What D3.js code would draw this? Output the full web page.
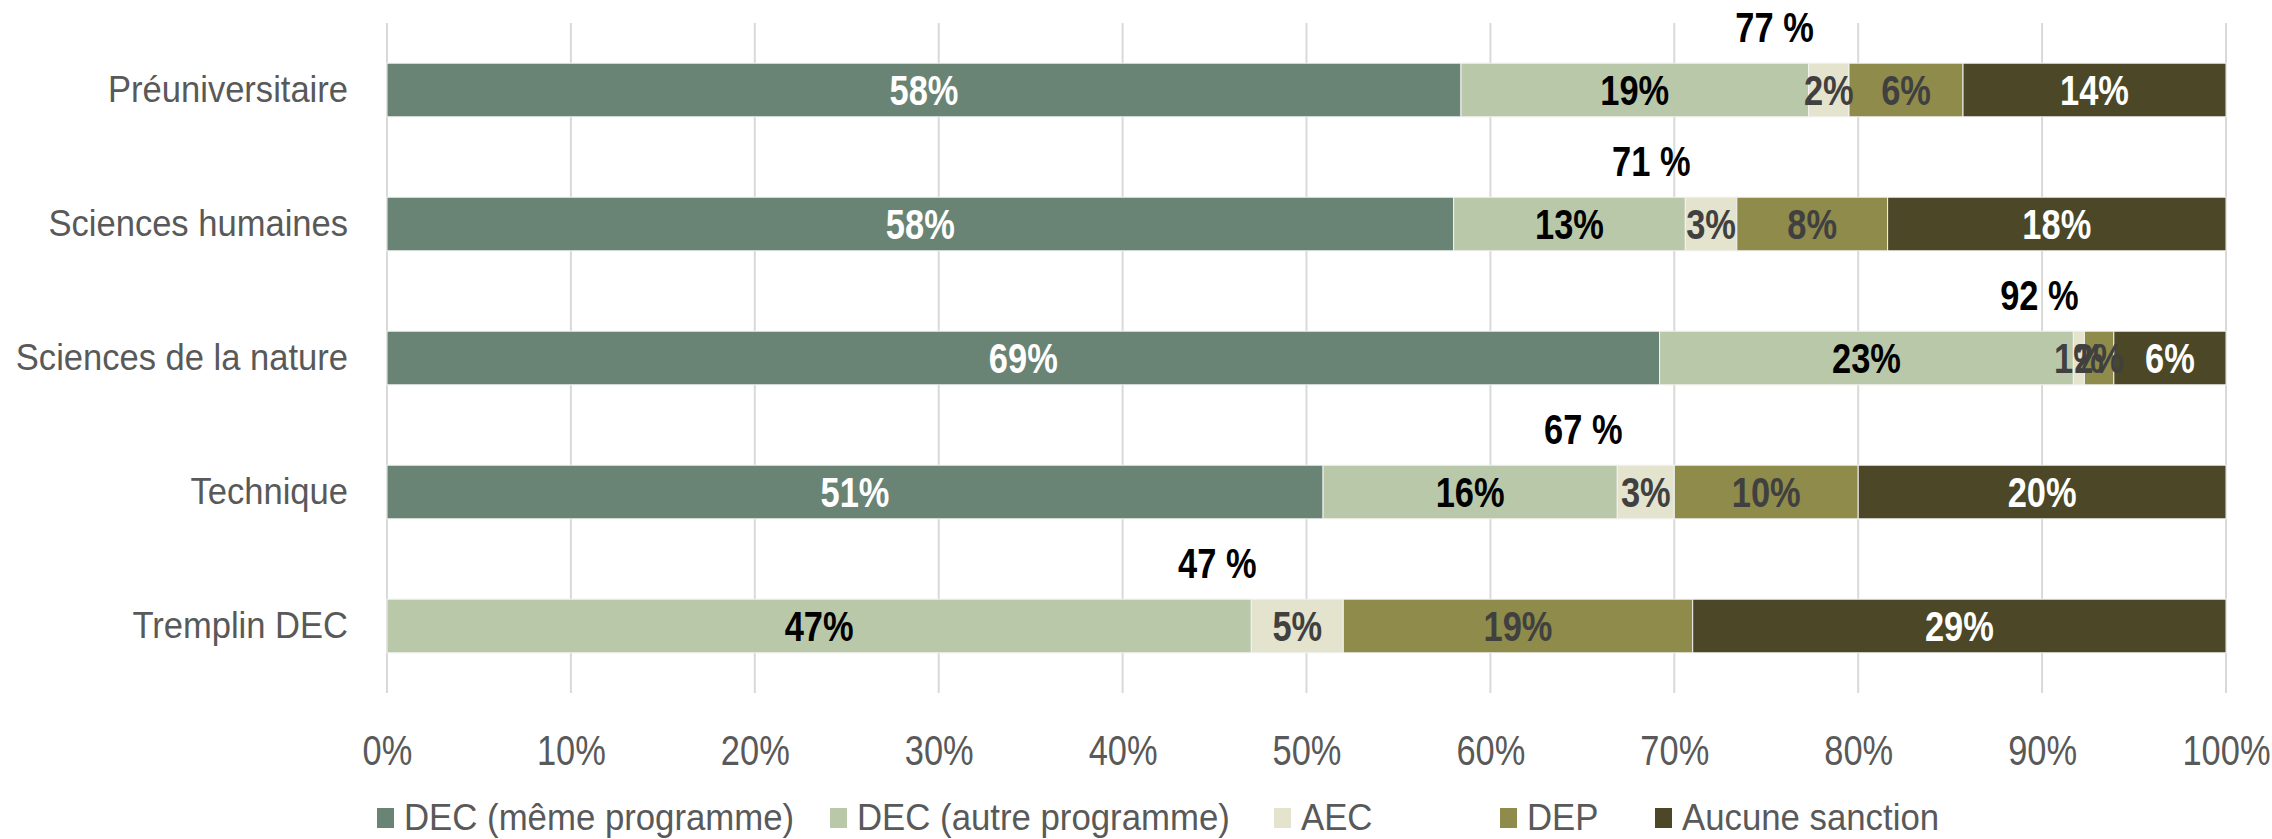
<!DOCTYPE html>
<html>
<head>
<meta charset="utf-8">
<script src="https://cdn.jsdelivr.net/npm/d3@7"></script>
<style>
  body { margin: 0; background: #fff; }
  svg { display: block; }
</style>
</head>
<body>
<div class="chart"></div>
<script>
const categories = ["Préuniversitaire", "Sciences humaines", "Sciences de la nature", "Technique", "Tremplin DEC"];
const seriesNames = ["DEC (même programme)", "DEC (autre programme)", "AEC", "DEP", "Aucune sanction"];
const decMeme = [58.4, 58.0, 69.2, 50.9, 0];
const decAutre = [18.9, 12.6, 22.5, 16.0, 47.0];
const aec = [2.2, 2.8, 0.6, 3.1, 5.0];
const dep = [6.2, 8.2, 1.6, 10.0, 19.0];
const aucune = [14.3, 18.4, 6.1, 20.0, 29.0];
const xTicks = [0, 10, 20, 30, 40, 50, 60, 70, 80, 90, 100];

const colors = ["#698474", "#bac8aa", "#e4e4ce", "#8f8b4a", "#4b4727"];
const labelColors = ["#ffffff", "#000000", "#404040", "#404040", "#ffffff"];

const width = 2272, height = 839;
const margin = { top: 23, right: 46, bottom: 146, left: 387 };
// no narrow font installed: squeeze Liberation Sans (Arial metrics) horizontally
const font = "'Liberation Sans', Arial, sans-serif";
const squeeze = 0.82;
const fs = 42;

const rows = categories.map((c, i) => {
  const r = { cat: c };
  seriesNames.forEach((s, j) => r[s] = [decMeme, decAutre, aec, dep, aucune][j][i]);
  return r;
});
const stacked = d3.stack().keys(seriesNames)(rows);

const x = d3.scaleLinear().domain([0, 100]).range([margin.left, width - margin.right]);
const y = d3.scaleBand().domain(categories).range([margin.top, height - margin.bottom]).paddingInner(0.6).paddingOuter(0.3);

const svg = d3.select(".chart").append("svg")
  .attr("width", width)
  .attr("height", height)
  .style("font-family", font);

// gridlines
svg.append("g")
  .selectAll("line")
  .data(xTicks)
  .join("line")
  .attr("x1", d => x(d)).attr("x2", d => x(d))
  .attr("y1", margin.top).attr("y2", height - margin.bottom)
  .attr("stroke", "#d9d9d9")
  .attr("stroke-width", 2);

// x axis labels
const xAxis = svg.append("g")
  .attr("transform", `translate(0,${height - margin.bottom})`)
  .call(d3.axisBottom(x).tickValues(xTicks).tickFormat(d => d + "%").tickSize(0).tickPadding(42));
xAxis.select(".domain").remove();
xAxis.selectAll("text")
  .attr("font-size", fs).attr("fill", "#595959").style("font-family", font)
  .attr("transform", `scale(${squeeze},1)`);

// y axis labels
const yAxis = svg.append("g")
  .attr("transform", `translate(${margin.left - 39},0)`)
  .call(d3.axisLeft(y).tickSize(0).tickPadding(0));
yAxis.select(".domain").remove();
yAxis.selectAll("text")
  .attr("x", 0)
  .attr("font-size", 36).attr("fill", "#595959").style("font-family", font)
  .attr("transform", "scale(0.96,1)");

// bars
const layer = svg.append("g")
  .selectAll("g")
  .data(stacked)
  .join("g")
  .attr("fill", (d, i) => colors[i]);

layer.selectAll("rect")
  .data(d => d)
  .join("rect")
  .attr("x", d => x(d[0]))
  .attr("y", d => y(d.data.cat))
  .attr("width", d => x(d[1]) - x(d[0]))
  .attr("height", y.bandwidth())
  .attr("stroke", "#f2f2f2")
  .attr("stroke-width", 1);

// segment labels
stacked.forEach((s, i) => {
  svg.append("g")
    .selectAll("text")
    .data(s.filter(d => d[1] - d[0] > 0))
    .join("text")
    .attr("transform", d => `translate(${x((d[0] + d[1]) / 2)},${y(d.data.cat) + y.bandwidth() / 2}) scale(${squeeze},1)`)
    .attr("dy", "0.36em")
    .attr("text-anchor", "middle")
    .attr("font-size", fs)
    .attr("font-weight", "bold")
    .attr("fill", labelColors[i])
    .text(d => Math.round(d[1] - d[0]) + "%");
});

// DEC total labels above bars
svg.append("g")
  .selectAll("text")
  .data(categories)
  .join("text")
  .attr("transform", (c, i) => `translate(${x(decMeme[i] + decAutre[i]) - 34},${y(c) - 21}) scale(${squeeze},1)`)
  .attr("text-anchor", "middle")
  .attr("font-size", fs)
  .attr("font-weight", "bold")
  .attr("fill", "#000")
  .text((c, i) => Math.round(decMeme[i] + decAutre[i]) + " %");

// legend
const legendX = [377, 830, 1274, 1500, 1655];
const legend = svg.append("g")
  .selectAll("g")
  .data(seriesNames)
  .join("g")
  .attr("transform", (d, i) => `translate(${legendX[i]},830)`);
legend.append("rect")
  .attr("x", 0).attr("y", -22)
  .attr("width", 17).attr("height", 20)
  .attr("fill", (d, i) => colors[i]);
legend.append("text")
  .attr("transform", "translate(27,0) scale(0.94,1)")
  .attr("font-size", 37)
  .attr("fill", "#595959")
  .text(d => d);
</script>
</body>
</html>
